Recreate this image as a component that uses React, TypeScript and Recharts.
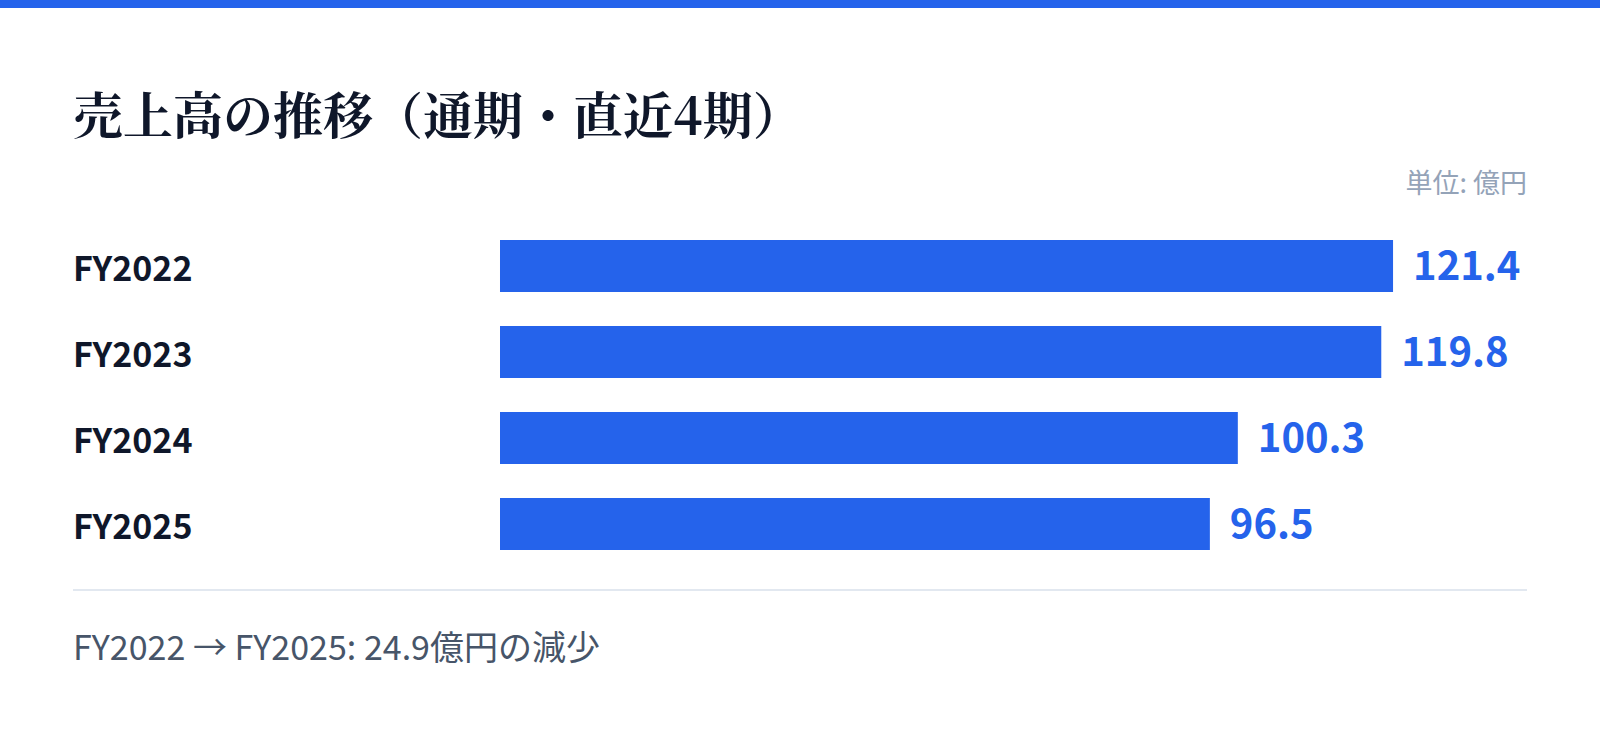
import { BarChart, Bar, XAxis, YAxis, LabelList } from 'recharts'

const CATEGORIES = ['FY2022', 'FY2023', 'FY2024', 'FY2025']
const VALUES = [121.4, 119.8, 100.3, 96.5]

const TITLE = '売上高の推移（通期・直近4期）'
const UNIT = '単位: 億円'
const FOOTNOTE = 'FY2022 → FY2025: 24.9億円の減少'

const BLUE = '#2563eb'
const SANS = "'Noto Sans CJK JP', 'Noto Sans', sans-serif"

const data = CATEGORIES.map((name, i) => ({ name, value: VALUES[i] }))
const xMax = Math.max(...VALUES) * 1.15

const CategoryTick = (props: any) => {
  const { y, payload } = props
  return (
    <text x={0} y={y} dominantBaseline="central" textAnchor="start"
      fill="#0f172a" fontSize={34} fontWeight={700} fontFamily={SANS}>
      {payload.value}
    </text>
  )
}

export default function App() {
  return (
    <div style={{ position: 'relative', width: 1600, height: 733, background: '#fff', overflow: 'hidden' }}>
      <style>{'body{margin:0}'}</style>
      <div style={{ position: 'absolute', left: 0, top: 0, width: 1600, height: 8, background: BLUE }} />
      <div style={{
        position: 'absolute', left: 73, top: 82, fontSize: 50, lineHeight: '60px', fontWeight: 700,
        color: '#0f172a', fontFamily: "'Noto Serif CJK JP', 'Noto Serif JP', serif", whiteSpace: 'nowrap',
      }}>
        {TITLE}
      </div>
      <div style={{
        position: 'absolute', right: 73, top: 166, fontSize: 27, lineHeight: '32px',
        color: '#94a3b8', fontFamily: SANS,
      }}>
        {UNIT}
      </div>
      <div style={{ position: 'absolute', left: 73, top: 223 }}>
        <BarChart width={1454} height={344} data={data} layout="vertical"
          margin={{ top: 0, right: 0, bottom: 0, left: 0 }} barCategoryGap={34}>
          <XAxis type="number" domain={[0, xMax]} hide />
          <YAxis type="category" dataKey="name" width={427} axisLine={false} tickLine={false}
            tick={<CategoryTick />} />
          <Bar dataKey="value" fill={BLUE} barSize={52} isAnimationActive={false}>
            <LabelList dataKey="value" position="right" offset={20}
              fill={BLUE} fontSize={40} fontWeight={700} fontFamily={SANS}
              formatter={(v: any) => Number(v).toFixed(1)} />
          </Bar>
        </BarChart>
      </div>
      <div style={{ position: 'absolute', left: 73, top: 589, width: 1454, height: 2, background: '#e2e8f0' }} />
      <div style={{
        position: 'absolute', left: 73, top: 626, fontSize: 34, lineHeight: '40px',
        color: '#475569', fontFamily: SANS, whiteSpace: 'nowrap',
      }}>
        {FOOTNOTE}
      </div>
    </div>
  )
}
